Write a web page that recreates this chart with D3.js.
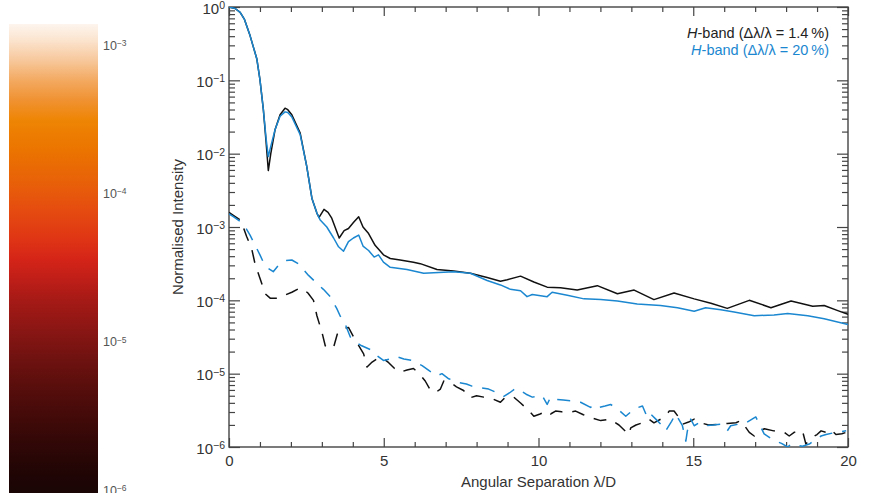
<!DOCTYPE html>
<html>
<head>
<meta charset="utf-8">
<script src="https://cdn.jsdelivr.net/npm/d3@7"></script>
<style>
body { margin: 0; background: #fff; }
text { font-family: "Liberation Sans", Arial, sans-serif; fill: #333; }
</style>
</head>
<body>
<div id="chart"></div>
<script>
// radial profiles, x in lambda/D, intensity stored as log10 values
var narrowX = [0,0.2,0.36,0.5,0.68,0.9,1.0,1.11,1.2,1.27,1.35,1.49,1.65,1.81,1.9,2.03,2.3,2.51,2.68,2.84,2.91,3.07,3.2,3.32,3.56,3.72,3.86,4.02,4.19,4.33,4.51,4.72,4.99,5.21,5.53,5.96,6.18,6.72,7.26,7.8,8.34,8.77,8.99,9.42,9.85,10.28,10.71,11.25,11.9,12.55,13.09,13.73,14.38,15.03,15.57,16.1,16.81,17.51,18.16,18.86,19.23,19.67,20];
var narrowLog = [0,-0.02,-0.073,-0.17,-0.39,-0.71,-0.99,-1.4,-1.85,-2.23,-2.0,-1.67,-1.47,-1.38,-1.4,-1.47,-1.72,-2.17,-2.61,-2.81,-2.87,-2.76,-2.8,-2.88,-3.15,-3.05,-3.02,-2.94,-2.86,-3.0,-3.09,-3.25,-3.38,-3.43,-3.45,-3.48,-3.5,-3.58,-3.6,-3.63,-3.69,-3.74,-3.72,-3.67,-3.75,-3.82,-3.83,-3.86,-3.8,-3.91,-3.86,-3.99,-3.9,-3.98,-4.04,-4.11,-4.0,-4.1,-4.01,-4.08,-4.07,-4.14,-4.19];

var broadX = [0,0.2,0.36,0.5,0.68,0.9,1.0,1.11,1.2,1.27,1.35,1.49,1.65,1.81,1.9,2.03,2.3,2.51,2.68,2.84,2.94,3.16,3.38,3.54,3.7,3.86,4.02,4.19,4.33,4.51,4.69,4.83,4.99,5.21,5.75,6.29,7.26,7.8,8.34,8.77,9.09,9.42,9.63,9.8,10.28,10.44,10.93,11.47,12.01,12.55,13.19,13.94,14.49,15.03,15.4,15.89,16.32,16.97,17.61,18.05,18.7,19.23,20];
var broadLog = [0,-0.02,-0.073,-0.17,-0.39,-0.71,-0.99,-1.4,-1.8,-2.04,-1.9,-1.67,-1.49,-1.43,-1.44,-1.5,-1.74,-2.17,-2.61,-2.81,-2.9,-3.0,-3.15,-3.27,-3.33,-3.2,-3.15,-3.11,-3.26,-3.32,-3.41,-3.38,-3.48,-3.55,-3.58,-3.63,-3.61,-3.63,-3.73,-3.79,-3.85,-3.87,-3.95,-3.92,-3.95,-3.89,-3.93,-3.98,-3.99,-4.01,-4.05,-4.07,-4.1,-4.15,-4.1,-4.13,-4.16,-4.21,-4.2,-4.18,-4.21,-4.25,-4.33];

// dashed curves (residual halo)
var narrowDashX = [0,0.14,0.38,0.57,0.73,0.84,1.0,1.17,1.33,1.6,1.8,2.03,2.3,2.4,2.55,2.73,2.84,3.0,3.11,3.25,3.38,3.5,3.7,3.86,4.08,4.35,4.46,4.6,4.78,4.94,5.16,5.35,5.53,5.75,5.96,6.15,6.34,6.53,6.7,6.83,6.94,7.15,7.35,7.58,7.78,8.0,8.23,8.55,8.77,8.93,9.2,9.42,9.63,9.85,10.05,10.28,10.39,10.55,10.75,10.93,11.2,11.45,11.68,12.01,12.3,12.6,12.92,12.98,13.15,13.36,13.57,13.73,13.95,14.16,14.22,14.38,14.54,14.65,14.85,15.03,15.24,15.5,15.84,16.1,16.38,16.54,16.81,16.97,17.08,17.3,17.6,17.94,18.1,18.26,18.53,18.64,18.8,19.0,19.13,19.29,19.45,19.61,19.8,19.94,20];
var narrowDashLog = [-2.8,-2.84,-2.91,-3.13,-3.29,-3.5,-3.7,-3.91,-3.97,-3.97,-3.93,-3.89,-3.83,-3.85,-3.9,-4.0,-4.21,-4.43,-4.62,-4.66,-4.64,-4.46,-4.38,-4.37,-4.54,-4.73,-4.91,-4.85,-4.8,-4.78,-4.85,-4.93,-4.98,-4.95,-4.93,-5.0,-5.1,-5.24,-5.25,-5.21,-5.1,-5.12,-5.18,-5.23,-5.33,-5.3,-5.32,-5.35,-5.39,-5.32,-5.32,-5.4,-5.48,-5.58,-5.55,-5.51,-5.55,-5.51,-5.52,-5.53,-5.51,-5.56,-5.6,-5.64,-5.62,-5.7,-5.83,-5.74,-5.7,-5.67,-5.62,-5.67,-5.62,-5.55,-5.51,-5.51,-5.6,-5.69,-5.66,-5.62,-5.67,-5.7,-5.69,-5.68,-5.67,-5.64,-5.8,-5.85,-5.8,-5.75,-5.78,-5.8,-5.85,-5.8,-5.78,-5.96,-5.88,-5.83,-5.78,-5.8,-5.76,-5.83,-5.82,-5.8,-5.92];

var broadDashX = [0,0.14,0.38,0.55,0.68,0.87,1.0,1.11,1.25,1.43,1.6,1.81,2.03,2.24,2.4,2.57,2.89,3.05,3.27,3.48,3.6,3.75,3.92,4.1,4.29,4.61,4.8,4.99,5.2,5.43,5.65,5.91,6.24,6.5,6.72,6.88,7.1,7.42,7.67,7.85,8.07,8.39,8.6,8.88,9.07,9.26,9.42,9.6,9.8,10.12,10.28,10.39,10.55,10.8,11.09,11.36,11.68,11.79,11.95,12.15,12.33,12.55,12.82,13.09,13.36,13.52,13.62,13.79,13.95,14.11,14.3,14.43,14.65,14.76,14.81,14.92,15.03,15.19,15.4,15.65,15.89,16.1,16.21,16.45,16.7,17.02,17.15,17.29,17.61,17.85,18.05,18.16,18.53,18.75,18.95,19.13,19.29,19.6,19.94];
var broadDashLog = [-2.82,-2.86,-2.93,-3.02,-3.11,-3.27,-3.38,-3.48,-3.56,-3.61,-3.52,-3.46,-3.45,-3.5,-3.58,-3.66,-3.79,-3.85,-3.95,-4.11,-4.22,-4.32,-4.5,-4.57,-4.62,-4.68,-4.76,-4.82,-4.8,-4.77,-4.8,-4.82,-4.89,-4.97,-5.03,-5.0,-5.07,-5.12,-5.14,-5.17,-5.19,-5.21,-5.25,-5.31,-5.26,-5.2,-5.23,-5.28,-5.32,-5.3,-5.42,-5.32,-5.35,-5.36,-5.37,-5.39,-5.46,-5.42,-5.46,-5.44,-5.42,-5.48,-5.58,-5.48,-5.44,-5.6,-5.55,-5.62,-5.69,-5.78,-5.65,-5.55,-5.71,-5.92,-5.78,-5.62,-5.71,-5.67,-5.71,-5.7,-5.69,-5.78,-5.71,-5.69,-5.67,-5.59,-5.7,-5.82,-5.91,-5.95,-6.0,-5.96,-5.99,-5.96,-5.9,-5.85,-5.83,-5.8,-5.78];

var legendLabels = ["1.4\u2009%", "20\u2009%"];
var yTicks = [1e-6,1e-5,1e-4,1e-3,1e-2,1e-1,1];
var xTicks = [0,5,10,15,20];
var cbTicks = [1e-6,1e-5,1e-4,1e-3];

// colour bar gradient (top -> bottom)
var cbStops = [
  [0, "#fdf5ee"], [0.034, "#fbe4cf"], [0.077, "#f7c89c"], [0.119, "#f3aa62"],
  [0.162, "#f09232"], [0.205, "#ee8504"], [0.269, "#eb7400"], [0.333, "#e86208"],
  [0.397, "#e54c10"], [0.461, "#df3415"], [0.503, "#d42418"], [0.546, "#be1e18"],
  [0.588, "#a61a16"], [0.652, "#8a1614"], [0.716, "#6e1210"], [0.802, "#4e0c0a"],
  [0.887, "#330807"], [0.951, "#220505"], [1, "#1a0505"]
];

var blue = "#1b87d0";
var axisCol = "#444";

var W = 870, H = 493;
var plot = {left: 229, right: 848, top: 7, bottom: 447};

var svg = d3.select("#chart").append("svg")
    .attr("width", W)
    .attr("height", H);

function toPts(xs, ls) {
  return xs.map(function(x, i) { return {x: x, y: Math.pow(10, ls[i])}; });
}

function supLabel(sel, supSize) {
  sel.each(function(d) {
    var t = d3.select(this);
    var e = Math.round(Math.log10(d));
    t.text(null);
    t.append("tspan").text("10");
    t.append("tspan").attr("dy", "-0.42em").attr("font-size", supSize)
      .text(e === 0 ? "0" : "\u2212" + (-e));
  });
}

// ---- colour bar ----
var cbTop = 24, cbBottom = 493;
var grad = svg.append("defs").append("linearGradient")
    .attr("id", "cbgrad")
    .attr("x1", "0%").attr("y1", "0%")
    .attr("x2", "0%").attr("y2", "100%");
cbStops.forEach(function(s) {
  grad.append("stop").attr("offset", s[0]).attr("stop-color", s[1]);
});
svg.append("rect")
    .attr("x", 9).attr("y", cbTop)
    .attr("width", 89).attr("height", cbBottom - cbTop)
    .style("fill", "url(#cbgrad)");

var cbScale = d3.scaleLog().domain([1e-6, 1e-3]).range([490, 45]);
svg.append("g")
    .attr("transform", "translate(98,0)")
    .call(d3.axisRight(cbScale).tickValues(cbTicks).tickSize(0).tickPadding(5))
    .call(function(g) { g.select(".domain").remove(); })
    .selectAll("text")
    .attr("font-size", 12.5)
    .style("fill", "#555")
    .call(supLabel, 8.5);

// ---- main plot ----
var x = d3.scaleLinear().domain([0, 20]).range([plot.left, plot.right]);
var y = d3.scaleLog().domain([1e-6, 1]).range([plot.bottom, plot.top]);

svg.append("clipPath").attr("id", "clip")
  .append("rect")
    .attr("x", plot.left).attr("y", plot.top)
    .attr("width", plot.right - plot.left)
    .attr("height", plot.bottom - plot.top);

var xMinor = d3.range(0, 21).filter(function(v) { return v % 5 !== 0; });
var yMinor = [];
for (var k = -6; k < 0; k++) {
  for (var m = 2; m <= 9; m++) yMinor.push(m * Math.pow(10, k));
}

function styleAxis(g) {
  g.select(".domain").remove();
  g.selectAll("line").attr("stroke", axisCol).attr("stroke-width", 1.2);
}

// bottom
svg.append("g").attr("transform", "translate(0," + plot.bottom + ")")
    .call(d3.axisBottom(x).tickValues(xTicks).tickSize(-9).tickPadding(8).tickFormat(d3.format("d")))
    .call(styleAxis)
    .selectAll("text").attr("font-size", 15).style("fill", "#333");
svg.append("g").attr("transform", "translate(0," + plot.bottom + ")")
    .call(d3.axisBottom(x).tickValues(xMinor).tickSize(-5).tickFormat(""))
    .call(styleAxis);
// top
svg.append("g").attr("transform", "translate(0," + plot.top + ")")
    .call(d3.axisTop(x).tickValues(xTicks).tickSize(-9).tickFormat(""))
    .call(styleAxis);
svg.append("g").attr("transform", "translate(0," + plot.top + ")")
    .call(d3.axisTop(x).tickValues(xMinor).tickSize(-5).tickFormat(""))
    .call(styleAxis);
// left
svg.append("g").attr("transform", "translate(" + plot.left + ",0)")
    .call(d3.axisLeft(y).tickValues(yTicks).tickSize(-11).tickPadding(4))
    .call(styleAxis)
    .selectAll("text").attr("font-size", 15).style("fill", "#333")
    .attr("dy", "0.4em")
    .call(supLabel, 10.5);
svg.append("g").attr("transform", "translate(" + plot.left + ",0)")
    .call(d3.axisLeft(y).tickValues(yMinor).tickSize(-6).tickFormat(""))
    .call(styleAxis);
// right
svg.append("g").attr("transform", "translate(" + plot.right + ",0)")
    .call(d3.axisRight(y).tickValues(yTicks).tickSize(-11).tickFormat(""))
    .call(styleAxis);
svg.append("g").attr("transform", "translate(" + plot.right + ",0)")
    .call(d3.axisRight(y).tickValues(yMinor).tickSize(-6).tickFormat(""))
    .call(styleAxis);

// frame
svg.append("rect")
    .attr("x", plot.left).attr("y", plot.top)
    .attr("width", plot.right - plot.left)
    .attr("height", plot.bottom - plot.top)
    .attr("fill", "none")
    .attr("stroke", axisCol)
    .attr("stroke-width", 1.4);

// curves
var line = d3.line()
    .x(function(d) { return x(d.x); })
    .y(function(d) { return y(d.y); });

var curves = svg.append("g").attr("clip-path", "url(#clip)");

var series = [
  {pts: toPts(narrowDashX, narrowDashLog), col: "#111", dash: "13,10"},
  {pts: toPts(broadDashX, broadDashLog), col: blue, dash: "13,10"},
  {pts: toPts(narrowX, narrowLog), col: "#111", dash: null},
  {pts: toPts(broadX, broadLog), col: blue, dash: null}
];

curves.selectAll("path")
    .data(series)
    .enter()
    .append("path")
    .attr("d", function(d) { return line(d.pts); })
    .attr("fill", "none")
    .attr("stroke", function(d) { return d.col; })
    .attr("stroke-width", 1.5)
    .attr("stroke-linejoin", "round")
    .attr("stroke-dasharray", function(d) { return d.dash; });

// legend
var legend = svg.append("g");
legendLabels.forEach(function(lab, i) {
  var t = legend.append("text")
      .attr("x", 829)
      .attr("y", 38 + i * 17)
      .attr("text-anchor", "end")
      .attr("font-size", 14.5)
      .style("fill", i === 0 ? "#222" : blue);
  t.append("tspan").attr("font-style", "italic").text("H");
  t.append("tspan").text("-band (\u0394\u03bb/\u03bb = " + lab + ")");
});

// axis titles
svg.append("text")
    .attr("x", (plot.left + plot.right) / 2)
    .attr("y", 487)
    .attr("text-anchor", "middle")
    .attr("font-size", 15)
    .text("Angular Separation \u03bb/D");

svg.append("text")
    .attr("transform", "translate(183," + ((plot.top + plot.bottom) / 2) + ") rotate(-90)")
    .attr("text-anchor", "middle")
    .attr("font-size", 15)
    .text("Normalised Intensity");
</script>
</body>
</html>
